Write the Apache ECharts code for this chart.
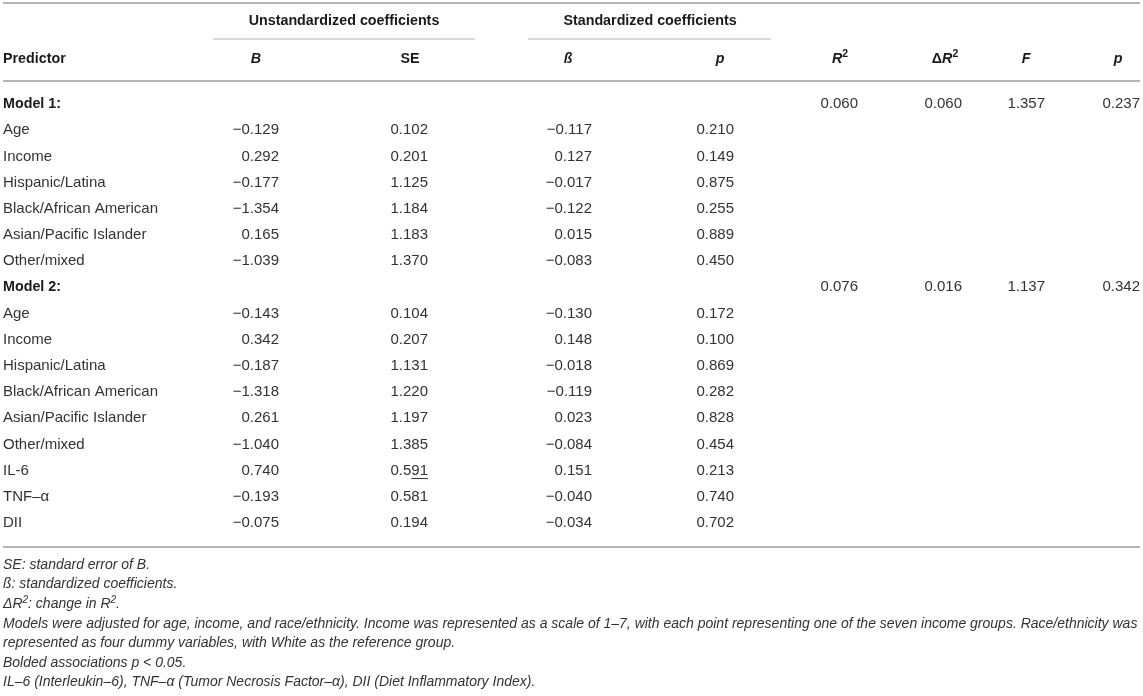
<!DOCTYPE html>
<html>
<head>
<meta charset="utf-8">
<title>Regression table</title>
<script src="https://cdn.jsdelivr.net/npm/echarts@6/dist/echarts.min.js"></script>
<style>
  html, body { margin: 0; padding: 0; background: #fff; }
  #main { width: 1143px; height: 696px; }
</style>
</head>
<body>
<div id="main"></div>
<script>
// table data, one array per column
var predictors = ['Model 1:', 'Age', 'Income', 'Hispanic/Latina', 'Black/African American',
  'Asian/Pacific Islander', 'Other/mixed', 'Model 2:', 'Age', 'Income', 'Hispanic/Latina',
  'Black/African American', 'Asian/Pacific Islander', 'Other/mixed', 'IL-6', 'TNF\u2013\u03b1', 'DII'];
var colB    = [null, -0.129, 0.292, -0.177, -1.354, 0.165, -1.039, null, -0.143, 0.342, -0.187, -1.318, 0.261, -1.040, 0.740, -0.193, -0.075];
var colSE   = [null, 0.102, 0.201, 1.125, 1.184, 1.183, 1.370, null, 0.104, 0.207, 1.131, 1.220, 1.197, 1.385, 0.591, 0.581, 0.194];
var colBeta = [null, -0.117, 0.127, -0.017, -0.122, 0.015, -0.083, null, -0.130, 0.148, -0.018, -0.119, 0.023, -0.084, 0.151, -0.040, -0.034];
var colP    = [null, 0.210, 0.149, 0.875, 0.255, 0.889, 0.450, null, 0.172, 0.100, 0.869, 0.282, 0.828, 0.454, 0.213, 0.740, 0.702];

// model summary, on the "Model n:" rows
var modelRows = [0, 7];
var modelR2   = [0.060, 0.076];
var modelDR2  = [0.060, 0.016];
var modelF    = [1.357, 1.137];
var modelP    = [0.237, 0.342];

var footnotes = [
  'SE: standard error of B.',
  '\u00df: standardized coefficients.',
  '\u0394{i|R}{sup|2}: change in {i|R}{sup|2}.',
  'Models were adjusted for age, income, and race/ethnicity. Income was represented as a scale of 1\u20137, with each point representing one of the seven income groups. Race/ethnicity was',
  'represented as four dummy variables, with White as the reference group.',
  'Bolded associations p < 0.05.',
  'IL\u20136 (Interleukin\u20136), TNF\u2013\u03b1 (Tumor Necrosis Factor\u2013\u03b1), DII (Diet Inflammatory Index).'
];

// layout (pixels)
var FONT = '"Liberation Sans", Arial, Helvetica, sans-serif';
var BODY = 15, HEADSIZE = 14.3, NOTE = 14;
var TEXT = '#333', HEAD = '#1a1a1a', RULE = '#b4b4b4';
var colRight = [279, 428, 592, 734, 858, 962, 1045, 1140];
var colHead  = [256, 410, 568, 720, 840, 945, 1026, 1118];
var headText = ['{bi|B}', 'SE', '{bi|\u00df}', '{bi|p}', '{bi|R}{bsup|2}', '\u0394{bi|R}{bsup|2}', '{bi|F}', '{bi|p}'];

function fmt(v) {
  return (v < 0 ? '\u2212' : '') + Math.abs(v).toFixed(3);
}

// build cells: [column, row, text]
var cells = [];
predictors.forEach(function (name, r) {
  cells.push({ col: -1, row: r, text: name, bold: name.indexOf('Model') === 0 });
  [colB, colSE, colBeta, colP].forEach(function (arr, c) {
    if (arr[r] != null) cells.push({ col: c, row: r, text: fmt(arr[r]) });
  });
});
modelRows.forEach(function (r, m) {
  [modelR2, modelDR2, modelF, modelP].forEach(function (arr, c) {
    cells.push({ col: c + 4, row: r, text: fmt(arr[m]) });
  });
});
// SE of IL-6 is underlined under its last two digits in the source
var underline = { row: 14, col: 1, chars: 2 };

var ctx = document.createElement('canvas').getContext('2d');
function textWidth(s, size) {
  ctx.font = size + 'px ' + FONT;
  return ctx.measureText(s).width;
}

var myChart = echarts.init(document.getElementById('main'));

// superscripts: bottom padding lifts the small glyph inside the line box
var richHead = {
  bi: { fontStyle: 'italic', fontWeight: 'bold', fontSize: HEADSIZE, fontFamily: FONT, fill: HEAD },
  bsup: { fontWeight: 'bold', fontSize: 10.5, fontFamily: FONT, fill: HEAD, padding: [0, 0, 9, 0] }
};
var richNote = {
  i: { fontStyle: 'italic', fontSize: NOTE, fontFamily: FONT, fill: TEXT },
  sup: { fontStyle: 'italic', fontSize: 10, fontFamily: FONT, fill: TEXT, padding: [0, 0, 8, 0] }
};

var graphics = [];
function rule(y, x1, x2, w) {
  graphics.push({ type: 'line', shape: { x1: x1, y1: y, x2: x2, y2: y }, style: { stroke: RULE, lineWidth: w }, silent: true });
}
rule(3, 3, 1140, 2);
rule(39, 213, 475, 1.2);
rule(39, 528, 771, 1.2);
rule(81, 3, 1140, 2);
rule(547, 3, 1140, 2);

function headLabel(text, x, y, align) {
  graphics.push({
    type: 'text', x: x, y: y, silent: true,
    style: { text: text, align: align || 'center', verticalAlign: 'middle', fontSize: HEADSIZE, fontWeight: 'bold', fontFamily: FONT, fill: HEAD, rich: richHead }
  });
}
headLabel('Unstandardized coefficients', 344, 21);
headLabel('Standardized coefficients', 650, 21);
headLabel('Predictor', 3, 59, 'left');
headText.forEach(function (t, i) { headLabel(t, colHead[i], 59); });

footnotes.forEach(function (t, i) {
  graphics.push({
    type: 'text', x: 3, y: 565 + i * 19.6, silent: true,
    style: { text: t, align: 'left', verticalAlign: 'middle', fontSize: NOTE, fontStyle: 'italic', fontFamily: FONT, fill: TEXT, rich: richNote }
  });
});

var option = {
  animation: false,
  grid: { left: 0, right: 0, top: 91, bottom: 160 },
  xAxis: { type: 'value', min: 0, max: 1143, show: false },
  yAxis: { type: 'category', data: predictors, inverse: true, show: false },
  graphic: graphics,
  series: [{
    type: 'custom',
    clip: false,
    encode: { x: 0, y: 1 },
    data: cells.map(function (d) { return [d.col < 0 ? 3 : colRight[d.col], d.row]; }),
    renderItem: function (params, api) {
      var d = cells[params.dataIndex];
      var pt = api.coord([api.value(0), api.value(1)]);
      var children = [{
        type: 'text',
        style: {
          text: d.text, x: pt[0], y: pt[1],
          align: d.col < 0 ? 'left' : 'right', verticalAlign: 'middle',
          fontSize: d.bold ? HEADSIZE : BODY, fontFamily: FONT,
          fontWeight: d.bold ? 'bold' : 'normal',
          fill: d.bold ? HEAD : TEXT
        }
      }];
      if (d.row === underline.row && d.col === underline.col) {
        var w = textWidth(d.text.slice(-underline.chars), BODY);
        children.push({
          type: 'line',
          shape: { x1: pt[0] - w, y1: pt[1] + 8, x2: pt[0], y2: pt[1] + 8 },
          style: { stroke: TEXT, lineWidth: 1 }
        });
      }
      return { type: 'group', children: children };
    }
  }]
};

myChart.setOption(option);
</script>
</body>
</html>
